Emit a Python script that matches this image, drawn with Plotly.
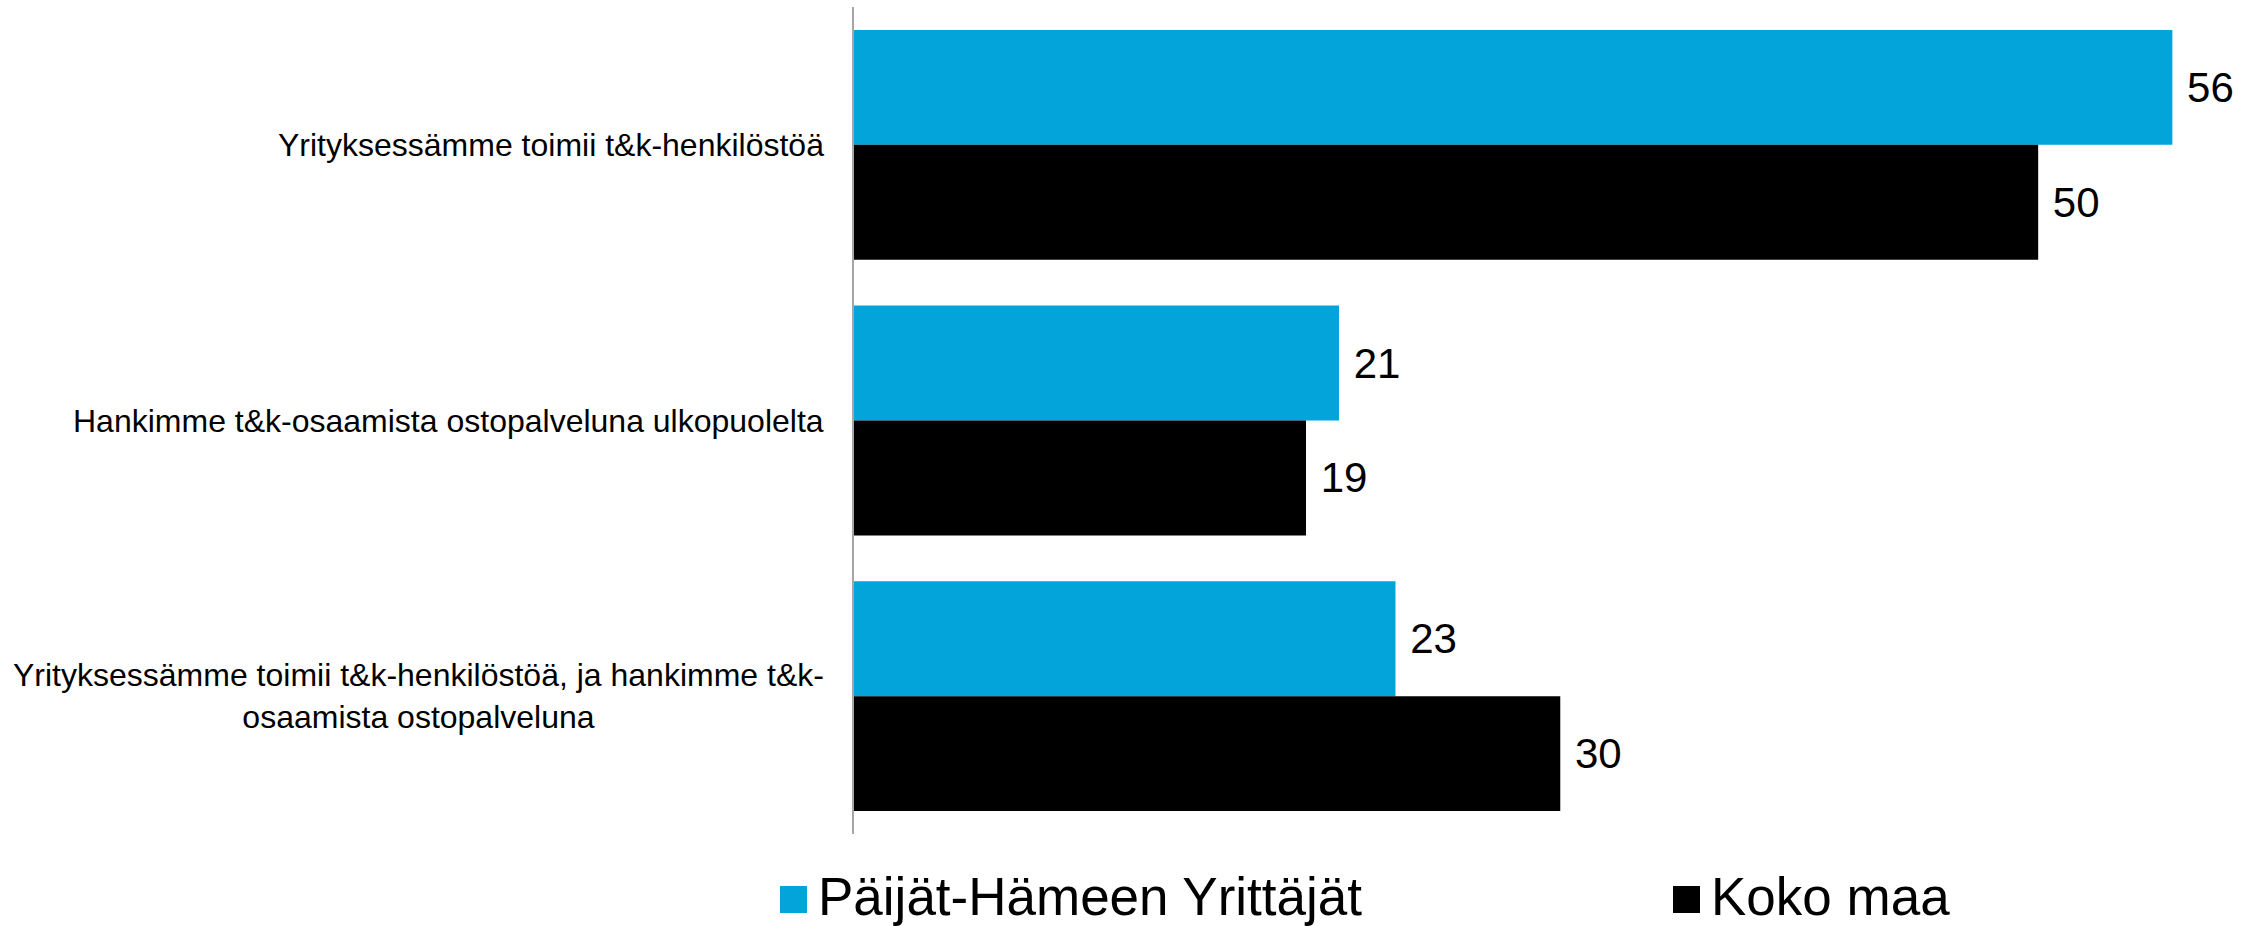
import plotly.graph_objects as go

# ---- data ----
categories = [
    "Yrityksessämme toimii t&k-henkilöstöä",
    "Hankimme t&k-osaamista ostopalveluna ulkopuolelta",
    "Yrityksessämme toimii t&k-henkilöstöä, ja hankimme t&k-<br>osaamista ostopalveluna",
]
series_names = ["Päijät-Hämeen Yrittäjät", "Koko maa"]
paijat_hame = [56.0, 20.6, 23.0]
koko_maa = [50.3, 19.2, 30.0]
colors = ["#03A4DA", "#000000"]

# ---- layout constants (pixels) ----
W, H = 2259, 926
ML, MT, MB = 854, 7, 92
XMAX = 59
PW = 1389
MR = W - ML - PW
PH = H - MT - MB
FONT = "Arial, Liberation Sans, sans-serif"


def px_x(X):
    return (X - ML) / PW


def px_y(Y):
    return (H - MB - Y) / PH


fig = go.Figure()
for name, vals, col in zip(series_names, [paijat_hame, koko_maa], colors):
    fig.add_trace(go.Bar(
        y=categories, x=vals, orientation="h", name=name,
        marker=dict(color=col, line=dict(width=0)),
        texttemplate="\u00a0%{x:.0f}", textposition="outside",
        textfont=dict(family=FONT, size=42, color="#000000"),
        cliponaxis=False, showlegend=False,
    ))

annotations = []
for c in categories:
    annotations.append(dict(
        xref="paper", yref="y", x=0, y=c, xanchor="right", yanchor="middle",
        xshift=-28, text=c, showarrow=False, align="center",
        font=dict(family=FONT, size=32, color="#000000"),
    ))

# custom legend (large squares like the original)
legend_x = [780, 1673]
shapes = []
for lx, name, col in zip(legend_x, series_names, colors):
    shapes.append(dict(
        type="rect", xref="paper", yref="paper",
        x0=px_x(lx), x1=px_x(lx + 27), y0=px_y(913), y1=px_y(886),
        fillcolor=col, line=dict(width=0),
    ))
    annotations.append(dict(
        xref="paper", yref="paper", x=px_x(lx + 36), y=px_y(896),
        xanchor="left", yanchor="middle", text=name, showarrow=False,
        font=dict(family=FONT, size=53, color="#000000"),
    ))

fig.update_layout(
    width=W, height=H,
    margin=dict(l=ML, r=MR, t=MT, b=MB, pad=0),
    paper_bgcolor="white", plot_bgcolor="white",
    barmode="group", bargap=0.166, bargroupgap=0,
    annotations=annotations, shapes=shapes,
    font=dict(family=FONT, color="#000000"),
    xaxis=dict(range=[0, XMAX], visible=False, showgrid=False, zeroline=False),
    yaxis=dict(autorange="reversed", showticklabels=False, ticks="",
               showgrid=False, zeroline=False, showline=True,
               linecolor="#A6A6A6", linewidth=2),
)

fig.write_html("out.html", config={"displayModeBar": False},
               post_script="document.body.style.margin='0';")
